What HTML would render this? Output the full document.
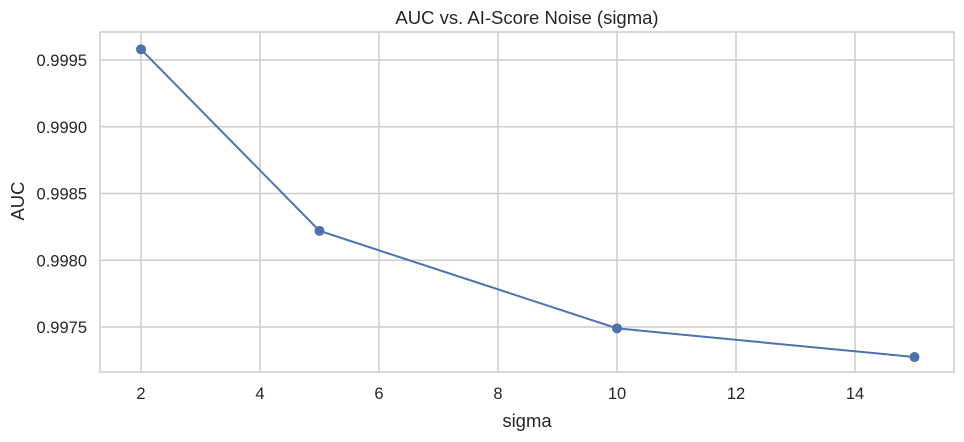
<!DOCTYPE html>
<html><head><meta charset="utf-8"><style>
body{margin:0;background:#fff;font-family:"Liberation Sans",sans-serif}
</style></head><body>
<svg id="chart" width="964" height="437" font-family="Liberation Sans, sans-serif"></svg>
<script>
const sigmaValues=[2,5,10,15];
const aucValues=[0.99958,0.99822,0.99749,0.997275];
const xTicks=[2,4,6,8,10,12,14];
const yTicks=[0.9975,0.9980,0.9985,0.9990,0.9995];
const yTickLabels=["0.9975","0.9980","0.9985","0.9990","0.9995"];
const L=100,R=954,T=32,B=372;
const xs=v=>141+(v-2)*59.5;
const ys=v=>327-(v-0.9975)/0.0005*66.75;
const svg=document.getElementById('chart');
const NS='http://www.w3.org/2000/svg';
function mk(t,a,p){const e=document.createElementNS(NS,t);for(const k in a)e.setAttribute(k,a[k]);(p||svg).appendChild(e);return e;}
xTicks.forEach(v=>{
 const g=mk('line',{x1:xs(v),x2:xs(v),y1:T,y2:B,stroke:'#cccccc','stroke-width':1.5});
 
 
 const t=mk('text',{x:xs(v),y:399,'text-anchor':'middle','font-size':16.5,fill:'#262626'});t.textContent=v;
 
 
});
yTicks.forEach((v,i)=>{
 const g=mk('line',{x1:L,x2:R,y1:ys(v),y2:ys(v),stroke:'#cccccc','stroke-width':1.5});
 
 
 const t=mk('text',{x:87,y:ys(v)+6,'text-anchor':'end','font-size':16.5,fill:'#262626'});t.textContent=yTickLabels[i];
 
 
});
const fr=mk('rect',{x:L,y:T,width:R-L,height:B-T,fill:'none',stroke:'#cccccc','stroke-width':1.5});


const pl=mk('polyline',{points:sigmaValues.map((s,i)=>xs(s)+','+ys(aucValues[i])).join(' '),fill:'none',stroke:'#4c72b0','stroke-width':2});


sigmaValues.forEach((s,i)=>{
 const c=mk('circle',{cx:xs(s),cy:ys(aucValues[i]),r:5,fill:'#4c72b0'});
 
 
});
const tt=mk('text',{x:527,y:24,'text-anchor':'middle','font-size':18.5,fill:'#262626'});tt.textContent='AUC vs. AI-Score Noise (sigma)';


const xl=mk('text',{x:527,y:427,'text-anchor':'middle','font-size':18.5,fill:'#262626'});xl.textContent='sigma';


const yl=mk('text',{x:0,y:0,'text-anchor':'middle','font-size':18.5,fill:'#262626',transform:'translate(24,201) rotate(-90)'});yl.textContent='AUC';


</script>
</body></html>
